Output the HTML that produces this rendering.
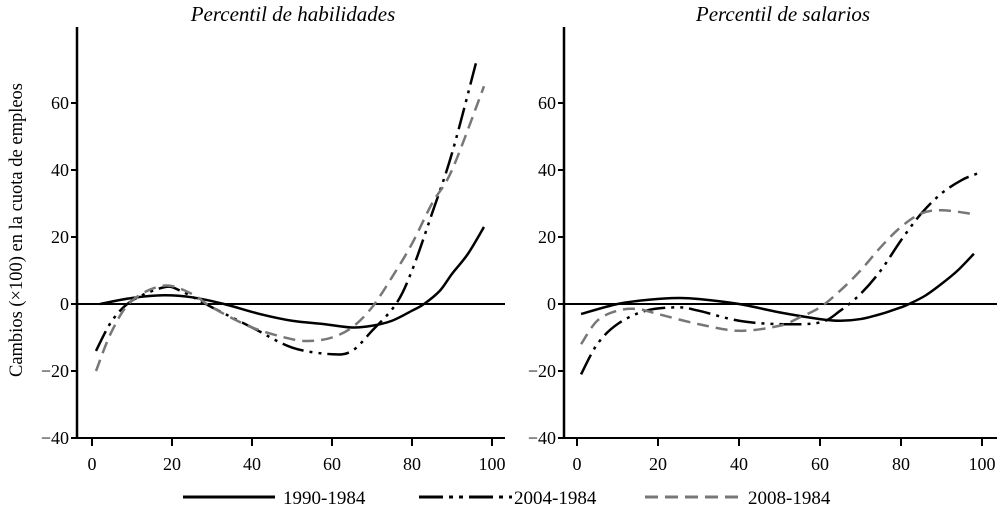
<!DOCTYPE html>
<html><head><meta charset="utf-8">
<style>
html,body{margin:0;padding:0;background:#fff;}
svg{display:block;font-family:"Liberation Serif",serif;}
</style></head>
<body>
<svg id="chart" width="1002" height="507" viewBox="0 0 1002 507" xmlns="http://www.w3.org/2000/svg">
<text transform="translate(22,230) rotate(-90)" text-anchor="middle" font-size="18.5">Cambios (×100) en la cuota de empleos</text>
<g id="p0"></g>
<g id="p1"></g>
<g>
  <line x1="183" y1="497" x2="275" y2="497" stroke="#000" stroke-width="3"/>
  <text x="283" y="504" font-size="19">1990-1984</text>
  <line x1="419" y1="497" x2="512" y2="497" stroke="#000" stroke-width="3" stroke-dasharray="24,6,4,6,4,6"/>
  <text x="514" y="504" font-size="19">2004-1984</text>
  <line x1="645" y1="497" x2="740" y2="497" stroke="#777" stroke-width="3" stroke-dasharray="13,7"/>
  <text x="748" y="504" font-size="19">2008-1984</text>
</g>
</svg>
<script>
const xTicks=[0,20,40,60,80,100];
const yTicks=[-40,-20,0,20,40,60];
const panelTitles=["Percentil de habilidades","Percentil de salarios"];
const skill1990x=[2,10,18,25,33,42,50,58,65,70,75,80,83,87,90,94,98];
const skill1990y=[0,1.8,2.6,2,0,-3,-5,-6,-7,-6.5,-5,-2,0,4,9,15,23];
const skill2004x=[1,5,10,18,22,30,40,50,60,65,70,76,80,85,90,96];
const skill2004y=[-14,-5,1,5,4,-1,-7,-13,-15,-14,-8,0,10,27,45,72];
const skill2008x=[1,5,10,18,25,30,40,50,55,60,65,70,75,80,85,90,98];
const skill2008y=[-20,-8,1,5.5,3,-1,-7,-10.5,-11,-10,-7,-1,8,18,30,40,65];
const wage1990x=[1,10,18,25,30,40,50,60,65,70,75,80,82,86,90,94,98];
const wage1990y=[-3,0,1.3,1.8,1.5,0,-2.5,-4.5,-5,-4.5,-3,-1,0,2.5,6,10,15];
const wage2004x=[1,5,10,17,25,30,40,50,60,65,70,75,80,85,90,95,99];
const wage2004y=[-21,-12,-6,-2,-1,-2,-5,-6,-5.5,-2,3,10,19,27,33,37,39];
const wage2008x=[1,5,10,15,20,30,40,50,55,60,65,70,75,80,85,90,97];
const wage2008y=[-12,-5,-2,-1.5,-3,-6,-8,-6.5,-4,-1,4,10,17,23,27,28,27];

const NS="http://www.w3.org/2000/svg";
const panels=[
 {g:document.getElementById('p0'),ax:77,x0:92,x1:492,right:505,tx:293,series:[[skill1990x,skill1990y],[skill2004x,skill2004y],[skill2008x,skill2008y]]},
 {g:document.getElementById('p1'),ax:564,x0:577,x1:982,right:997,tx:783,series:[[wage1990x,wage1990y],[wage2004x,wage2004y],[wage2008x,wage2008y]]}
];
const styles=[{c:"#000",d:""},{c:"#000",d:"22,6,3,6,3,6"},{c:"#777",d:"12,7"}];
const names=["line-1990-1984","line-2004-1984","line-2008-1984"];
function yS(v){return 304-v*(67/20);}
function mk(t,a,p){const e=document.createElementNS(NS,t);for(const k in a)e.setAttribute(k,a[k]);p.appendChild(e);return e;}
function path(pts){
  let d="M"+pts[0][0]+","+pts[0][1];
  for(let i=0;i<pts.length-1;i++){
    const p0=pts[Math.max(i-1,0)],p1=pts[i],p2=pts[i+1],p3=pts[Math.min(i+2,pts.length-1)];
    const c1=[p1[0]+(p2[0]-p0[0])/6,p1[1]+(p2[1]-p0[1])/6];
    const c2=[p2[0]-(p3[0]-p1[0])/6,p2[1]-(p3[1]-p1[1])/6];
    d+=" C"+c1[0]+","+c1[1]+" "+c2[0]+","+c2[1]+" "+p2[0]+","+p2[1];
  }
  return d;
}
panels.forEach((P,pi)=>{
  const xS=v=>P.x0+(P.x1-P.x0)*v/100;
  const g=P.g;
  const t=mk('text',{x:P.tx,y:21,'text-anchor':'middle','font-size':'21','font-style':'italic'},g);
  t.textContent=panelTitles[pi];
  
  
  const ya=mk('line',{x1:P.ax,y1:27,x2:P.ax,y2:439,stroke:'#000','stroke-width':2.5},g);
  
  
  const xa=mk('line',{x1:P.ax,y1:438,x2:P.right,y2:438,stroke:'#000','stroke-width':2},g);
  
  
  const zl=mk('line',{x1:P.ax,y1:yS(0),x2:P.right,y2:yS(0),stroke:'#000','stroke-width':2},g);
  
  
  yTicks.forEach(v=>{
    const tk=mk('line',{x1:P.ax-6,y1:yS(v),x2:P.ax,y2:yS(v),stroke:'#000','stroke-width':2},g);
    
    
    const lb=mk('text',{x:P.ax-8,y:yS(v)+6,'text-anchor':'end','font-size':'18'},g);
    lb.textContent=(v<0?'\u2212'+(-v):String(v));
    
    
  });
  xTicks.forEach(v=>{
    const tk=mk('line',{x1:xS(v),y1:438,x2:xS(v),y2:446,stroke:'#000','stroke-width':2},g);
    
    
    const lb=mk('text',{x:xS(v),y:470,'text-anchor':'middle','font-size':'18'},g);
    lb.textContent=String(v);
    
    
  });
  P.series.forEach((s,si)=>{
    const pts=s[0].map((x,i)=>[xS(x),yS(s[1][i])]);
    const a={d:path(pts),fill:'none',stroke:styles[si].c,'stroke-width':2.5};
    if(styles[si].d)a['stroke-dasharray']=styles[si].d;
    const p=mk('path',a,g);
    
    
  });
});
</script>
</body></html>
